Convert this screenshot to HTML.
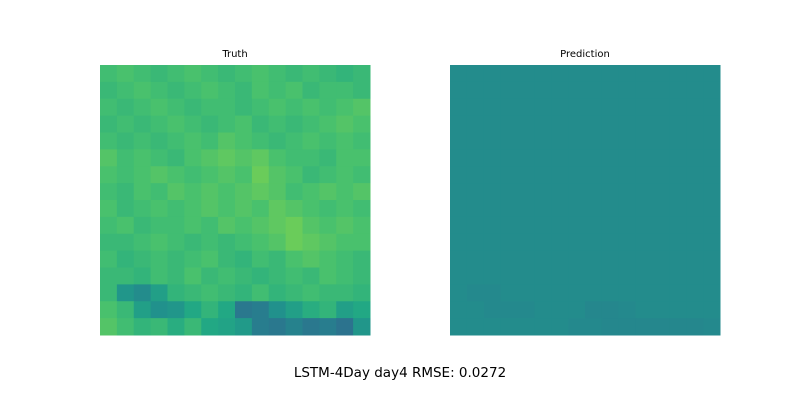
<!DOCTYPE html>
<html><head><meta charset="utf-8"><style>
body{margin:0;background:#fff;width:800px;height:400px;overflow:hidden;font-family:"DejaVu Sans","Liberation Sans",sans-serif}
</style></head><body>
<svg id="fig" width="800" height="400">
<text x="235" y="57" font-size="10" text-anchor="middle" font-family="DejaVu Sans, sans-serif">Truth</text>
<text x="585" y="57" font-size="10" text-anchor="middle" font-family="DejaVu Sans, sans-serif">Prediction</text>
<g id="truth"></g>
<g id="pred"></g>
<text x="400" y="377" font-size="13.5" text-anchor="middle" font-family="DejaVu Sans, sans-serif">LSTM-4Day day4 RMSE: 0.0272</text>
</svg>
<script>
const truthValues=[
[.69,.71,.69,.67,.69,.71,.69,.67,.69,.71,.69,.67,.69,.67,.65,.67],
[.67,.69,.71,.69,.67,.69,.71,.69,.67,.71,.69,.71,.67,.69,.69,.67],
[.69,.67,.69,.71,.69,.67,.69,.69,.67,.69,.71,.69,.71,.69,.71,.73],
[.67,.69,.67,.69,.71,.69,.67,.69,.71,.67,.69,.67,.69,.71,.73,.71],
[.69,.67,.69,.67,.69,.71,.69,.73,.71,.69,.67,.69,.71,.69,.71,.69],
[.73,.69,.71,.69,.67,.71,.73,.75,.73,.75,.71,.69,.69,.67,.71,.71],
[.71,.69,.71,.73,.71,.69,.71,.73,.71,.77,.73,.71,.67,.69,.71,.69],
[.69,.67,.71,.69,.73,.71,.73,.71,.73,.75,.73,.69,.71,.73,.71,.73],
[.71,.67,.69,.71,.69,.71,.73,.71,.73,.71,.75,.73,.71,.69,.71,.69],
[.69,.71,.67,.69,.69,.71,.69,.73,.71,.73,.75,.77,.73,.71,.73,.71],
[.67,.67,.69,.71,.69,.67,.69,.67,.69,.71,.73,.77,.75,.73,.71,.71],
[.69,.65,.67,.69,.67,.69,.71,.67,.65,.69,.67,.71,.73,.71,.69,.67],
[.67,.67,.65,.69,.67,.71,.67,.69,.67,.65,.67,.69,.67,.71,.69,.67],
[.67,.52,.48,.56,.65,.67,.69,.67,.65,.69,.65,.67,.69,.67,.67,.65],
[.71,.67,.56,.50,.52,.60,.65,.60,.40,.42,.50,.56,.62,.65,.56,.60],
[.73,.69,.65,.67,.62,.67,.60,.58,.54,.42,.40,.44,.40,.42,.38,.52]];
const predValues=[
[.48,.48,.48,.48,.48,.48,.48,.48,.48,.48,.48,.48,.48,.48,.48,.48],
[.48,.48,.48,.48,.48,.48,.48,.48,.48,.48,.48,.48,.48,.48,.48,.48],
[.48,.48,.48,.48,.48,.48,.48,.48,.48,.48,.48,.48,.48,.48,.48,.48],
[.48,.48,.48,.48,.48,.48,.48,.48,.48,.48,.48,.48,.48,.48,.48,.48],
[.48,.48,.48,.48,.48,.48,.48,.48,.48,.48,.48,.48,.48,.48,.48,.48],
[.48,.48,.48,.48,.48,.48,.48,.48,.48,.48,.48,.48,.48,.48,.48,.48],
[.48,.48,.48,.48,.48,.48,.48,.48,.48,.48,.48,.48,.48,.48,.48,.48],
[.48,.48,.48,.48,.48,.48,.48,.48,.48,.48,.48,.48,.48,.48,.48,.48],
[.48,.48,.48,.48,.48,.48,.48,.48,.48,.48,.48,.48,.48,.48,.48,.48],
[.48,.48,.48,.48,.48,.48,.48,.48,.48,.48,.48,.48,.48,.48,.48,.48],
[.48,.48,.48,.48,.48,.48,.48,.48,.48,.48,.48,.48,.48,.48,.48,.48],
[.48,.48,.48,.48,.48,.48,.48,.48,.48,.48,.48,.48,.48,.48,.48,.48],
[.48,.48,.48,.48,.48,.48,.48,.48,.48,.48,.48,.48,.48,.48,.48,.48],
[.48,.47,.47,.48,.48,.48,.48,.48,.48,.48,.48,.48,.48,.48,.48,.48],
[.48,.48,.47,.47,.47,.48,.48,.48,.46,.46,.47,.48,.48,.48,.48,.48],
[.48,.48,.48,.48,.48,.48,.48,.47,.47,.46,.46,.46,.46,.46,.46,.47]];
const stops=["#440154","#482475","#414487","#355f8d","#2a788e","#21918c","#22a884","#44bf70","#7ad151","#bddf26","#fde725"];
function hex(h){return [1,3,5].map(i=>parseInt(h.substr(i,2),16));}
function viridis(v){v=Math.max(0,Math.min(1,v));const f=v*10,i=Math.min(9,Math.floor(f)),t=f-i;
const a=hex(stops[i]),b=hex(stops[i+1]);return "rgb("+a.map((c,k)=>Math.round(c+(b[k]-c)*t)).join(",")+")";}
function draw(id,vals,x0,y0,size,name){
const g=document.getElementById(id),n=vals.length,c=size/n;
vals.forEach((row,r)=>row.forEach((v,k)=>{
const el=document.createElementNS("http://www.w3.org/2000/svg","rect");


el.setAttribute("x",x0+k*c);el.setAttribute("y",y0+r*c);
el.setAttribute("width",c+0.5);el.setAttribute("height",c+0.5);
el.setAttribute("fill",viridis(v));g.appendChild(el);}));}
draw("truth",truthValues,100,65,270,"truth-cell");
draw("pred",predValues,450,65,270,"prediction-cell");
</script>
</body></html>
